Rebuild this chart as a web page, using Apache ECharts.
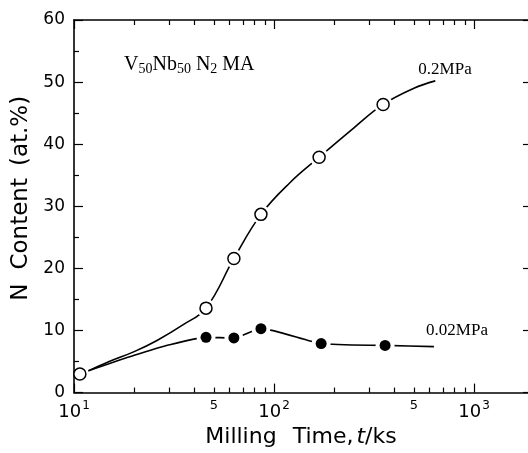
<!DOCTYPE html>
<html>
<head>
<meta charset="utf-8">
<script src="https://cdn.jsdelivr.net/npm/echarts@6/dist/echarts.min.js"></script>
<style>html,body{margin:0;padding:0;background:#fff;}#c{width:528px;height:453px;}</style>
</head>
<body>
<div id="c"></div>
<script>
// ---- data ----
const xMarkers02 = [10.7, 45.7, 63, 86, 168, 351];
const yMarkers02 = [3.0, 13.6, 21.6, 28.7, 37.9, 46.4];
const xMarkers002 = [45.7, 63, 86, 172, 359];
const yMarkers002 = [8.9, 8.8, 10.3, 7.9, 7.6];
const xCurve02 = [11.8, 15, 20, 26, 35, 45.7, 63, 86, 120, 168, 250, 351, 500, 640];
const yCurve02 = [3.5, 5.0, 6.6, 8.4, 10.9, 13.6, 21.6, 28.7, 33.8, 37.9, 42.6, 46.4, 49.0, 50.2];
const xCurve002 = [11.8, 20, 30, 45.7, 63, 86, 172, 359, 630];
const yCurve002 = [3.5, 6.0, 7.7, 8.9, 8.8, 10.3, 7.9, 7.6, 7.4];
const xMajorTicks = [10, 100, 1000];
const xMinorTicks = [20, 30, 40, 50, 60, 70, 80, 90, 200, 300, 400, 500, 600, 700, 800, 900];
const xLabelValues = [10, 50, 100, 500, 1000];
const yTicks = [0, 10, 20, 30, 40, 50, 60];
const labelHigh = '0.2MPa';
const labelLow = '0.02MPa';

const zip = (xs, ys) => xs.map((x, i) => [x, ys[i]]);
const black = '#000';
const sans = 'DejaVu Sans';
const serif = 'Liberation Serif';

const chart = echarts.init(document.getElementById('c'), null, {renderer: 'canvas'});

function xAxisBase(pos, ticks, len, showLine, showLabel) {
  return {
    type: 'log', logBase: 10, min: 10, max: 1860, position: pos,
    axisLine: {show: showLine, onZero: false, lineStyle: {color: black, width: 1.6}},
    axisTick: {show: true, inside: true, length: len, customValues: ticks, lineStyle: {color: black, width: 1.2}},
    splitLine: {show: false},
    minorTick: {show: false},
    axisLabel: showLabel ? {
      show: true, customValues: xLabelValues, margin: 7, color: black,
      formatter: function (v) {
        const e = Math.log10(v);
        const r = Math.round(e);
        if (Math.abs(e - r) < 1e-6) return '{b|10}{s|' + r + '}';
        return '{f|5}';
      },
      rich: {
        b: {fontFamily: sans, fontSize: 18, color: black},
        s: {fontFamily: sans, fontSize: 12, color: black, padding: [0, 0, 13, 1]},
        f: {fontFamily: sans, fontSize: 13, color: black, padding: [0, 0, 3, 0]}
      }
    } : {show: false}
  };
}

const xAxes = [
  Object.assign(xAxisBase('bottom', xMinorTicks, 5, true, true), {
    name: '{a|Milling}{b|Time,}{i|t}{c|/ks}',
    nameLocation: 'middle', nameGap: 27,
    nameTextStyle: {
      rich: {
        a: {fontFamily: sans, fontSize: 22, color: black, padding: [0, 16, 0, 0]},
        b: {fontFamily: sans, fontSize: 22, color: black, padding: [0, 3, 0, 0]},
        c: {fontFamily: sans, fontSize: 22, color: black},
        i: {fontFamily: sans, fontSize: 22, fontStyle: 'italic', color: black}
      }
    }
  }),
  xAxisBase('bottom', xMajorTicks, 9, false, false),
  xAxisBase('top', xMinorTicks, 5, true, false),
  xAxisBase('top', xMajorTicks, 9, false, false)
];

const option = {
  backgroundColor: '#fff',
  animation: false,
  grid: {left: 74, right: 0, top: 20, bottom: 55, containLabel: false},
  xAxis: xAxes,
  yAxis: [
    {
      type: 'value', min: 0, max: 60, interval: 10, position: 'left',
      axisLine: {show: true, onZero: false, lineStyle: {color: black, width: 1.6}},
      axisTick: {show: true, inside: true, length: 9, lineStyle: {color: black, width: 1.2}},
      minorTick: {show: true, splitNumber: 2, length: 5, lineStyle: {color: black, width: 1.2}},
      splitLine: {show: false},
      axisLabel: {color: black, fontFamily: sans, fontSize: 17, margin: 9},
      name: '{n|N}{c|Content}{p|(at.%)}',
      nameLocation: 'middle', nameGap: 40,
      nameTextStyle: {
        padding: [0, 0, 0, 16],
        rich: {
          n: {fontFamily: sans, fontSize: 23, color: black, padding: [0, 14, 0, 0]},
          c: {fontFamily: sans, fontSize: 23, color: black, padding: [0, 12, 0, 0]},
          p: {fontFamily: sans, fontSize: 23, color: black}
        }
      }
    },
    {
      type: 'value', min: 0, max: 60, interval: 10, position: 'right',
      axisLine: {show: false},
      axisTick: {show: true, inside: true, length: 5, lineStyle: {color: black, width: 1.2}},
      splitLine: {show: false},
      axisLabel: {show: false}
    }
  ],
  series: [
    {
      type: 'line', data: zip(xCurve02, yCurve02), smooth: 0.4, symbol: 'none',
      lineStyle: {color: black, width: 1.6}, z: 2, silent: true
    },
    {
      type: 'line', data: zip(xCurve002, yCurve002), smooth: 0.2, symbol: 'none',
      lineStyle: {color: black, width: 1.6}, z: 2, silent: true
    },
    {
      type: 'scatter', data: zip(xMarkers02, yMarkers02).slice(1).concat(zip(xMarkers002, yMarkers002)),
      symbol: 'circle', symbolSize: 19, itemStyle: {color: '#fff', opacity: 1}, z: 3, silent: true
    },
    {
      type: 'scatter', data: zip(xMarkers02, yMarkers02), symbol: 'circle', symbolSize: 12,
      itemStyle: {color: '#fff', borderColor: black, borderWidth: 1.5, opacity: 1}, z: 4
    },
    {
      type: 'scatter', data: zip(xMarkers002, yMarkers002), symbol: 'circle', symbolSize: 11,
      itemStyle: {color: black, opacity: 1}, z: 4
    }
  ],
  graphic: [
    {
      type: 'text', left: 124, top: 55, z: 10,
      style: {
        text: '{m|V}{s|50}{m|Nb}{s|50}{m| N}{s|2}{m| MA}',
        rich: {
          m: {fontFamily: serif, fontSize: 20, fill: black},
          s: {fontFamily: serif, fontSize: 14, fill: black, padding: [9, 0, 0, 0]}
        }
      }
    },
    {
      type: 'text', x: 445, y: 70, z: 10,
      style: {text: labelHigh, fontFamily: serif, fontSize: 17, fill: black, align: 'center', verticalAlign: 'middle'}
    },
    {
      type: 'text', x: 457, y: 331, z: 10,
      style: {text: labelLow, fontFamily: serif, fontSize: 17, fill: black, align: 'center', verticalAlign: 'middle'}
    }
  ]
};
chart.setOption(option);
</script>
</body>
</html>
